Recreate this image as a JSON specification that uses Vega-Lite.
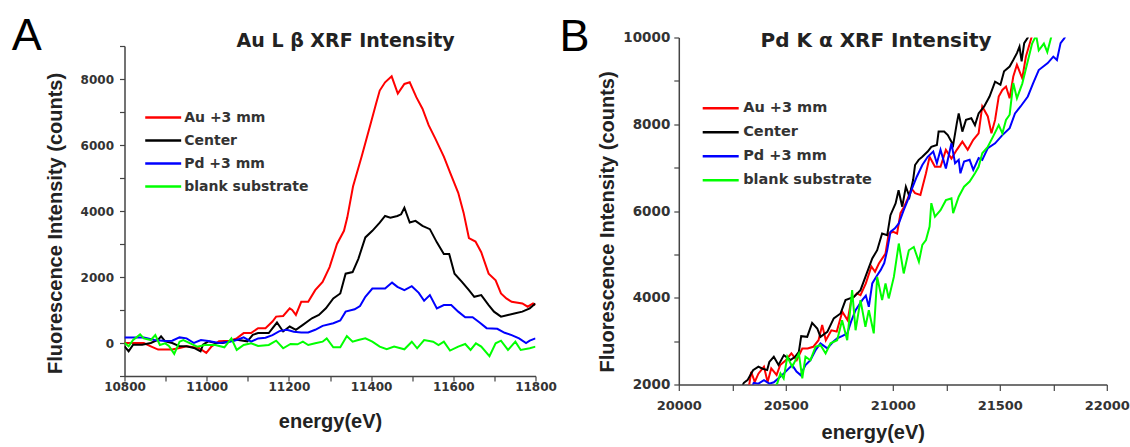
{
  "$schema": "https://vega.github.io/schema/vega-lite/v6.json",
  "padding": {"left": 10.5, "top": 12.5, "right": 0, "bottom": 0},
  "background": "white",
  "datasets": {
    "a": [
      {"s":"Au +3 mm","e":10800,"i":0},{"s":"Au +3 mm","e":10830,"i":0},{"s":"Au +3 mm","e":10847,"i":0},{"s":"Au +3 mm","e":10864,"i":-100},{"s":"Au +3 mm","e":10882,"i":-200},{"s":"Au +3 mm","e":10916,"i":-200},{"s":"Au +3 mm","e":10934,"i":-150},{"s":"Au +3 mm","e":10951,"i":-100},{"s":"Au +3 mm","e":10981,"i":-150},{"s":"Au +3 mm","e":10999,"i":-300},{"s":"Au +3 mm","e":11012,"i":-100},{"s":"Au +3 mm","e":11030,"i":50},{"s":"Au +3 mm","e":11056,"i":70},{"s":"Au +3 mm","e":11073,"i":140},{"s":"Au +3 mm","e":11090,"i":300},{"s":"Au +3 mm","e":11108,"i":300},{"s":"Au +3 mm","e":11125,"i":450},{"s":"Au +3 mm","e":11143,"i":450},{"s":"Au +3 mm","e":11160,"i":650},{"s":"Au +3 mm","e":11169,"i":800},{"s":"Au +3 mm","e":11186,"i":820},{"s":"Au +3 mm","e":11202,"i":1050},{"s":"Au +3 mm","e":11208,"i":1000},{"s":"Au +3 mm","e":11217,"i":850},{"s":"Au +3 mm","e":11230,"i":1250},{"s":"Au +3 mm","e":11247,"i":1250},{"s":"Au +3 mm","e":11264,"i":1600},{"s":"Au +3 mm","e":11282,"i":1850},{"s":"Au +3 mm","e":11299,"i":2300},{"s":"Au +3 mm","e":11317,"i":3000},{"s":"Au +3 mm","e":11334,"i":3400},{"s":"Au +3 mm","e":11342,"i":3800},{"s":"Au +3 mm","e":11356,"i":4740},{"s":"Au +3 mm","e":11377,"i":5650},{"s":"Au +3 mm","e":11399,"i":6650},{"s":"Au +3 mm","e":11412,"i":7250},{"s":"Au +3 mm","e":11421,"i":7650},{"s":"Au +3 mm","e":11434,"i":7900},{"s":"Au +3 mm","e":11450,"i":8080},{"s":"Au +3 mm","e":11465,"i":7560},{"s":"Au +3 mm","e":11481,"i":7850},{"s":"Au +3 mm","e":11494,"i":7900},{"s":"Au +3 mm","e":11510,"i":7450},{"s":"Au +3 mm","e":11525,"i":7100},{"s":"Au +3 mm","e":11540,"i":6600},{"s":"Au +3 mm","e":11556,"i":6200},{"s":"Au +3 mm","e":11577,"i":5650},{"s":"Au +3 mm","e":11593,"i":5140},{"s":"Au +3 mm","e":11612,"i":4550},{"s":"Au +3 mm","e":11625,"i":3950},{"s":"Au +3 mm","e":11638,"i":3180},{"s":"Au +3 mm","e":11654,"i":3075},{"s":"Au +3 mm","e":11668,"i":2750},{"s":"Au +3 mm","e":11686,"i":2100},{"s":"Au +3 mm","e":11703,"i":1900},{"s":"Au +3 mm","e":11716,"i":1500},{"s":"Au +3 mm","e":11729,"i":1350},{"s":"Au +3 mm","e":11742,"i":1250},{"s":"Au +3 mm","e":11768,"i":1200},{"s":"Au +3 mm","e":11781,"i":1100},{"s":"Au +3 mm","e":11794,"i":1200},{"s":"Au +3 mm","e":11800,"i":1150},
      {"s":"Center","e":10800,"i":-100},{"s":"Center","e":10810,"i":-250},{"s":"Center","e":10821,"i":-50},{"s":"Center","e":10843,"i":-50},{"s":"Center","e":10864,"i":0},{"s":"Center","e":10882,"i":100},{"s":"Center","e":10889,"i":200},{"s":"Center","e":10899,"i":50},{"s":"Center","e":10916,"i":0},{"s":"Center","e":10934,"i":-100},{"s":"Center","e":10951,"i":-100},{"s":"Center","e":10969,"i":-150},{"s":"Center","e":10985,"i":-250},{"s":"Center","e":10991,"i":-50},{"s":"Center","e":11004,"i":50},{"s":"Center","e":11021,"i":0},{"s":"Center","e":11039,"i":0},{"s":"Center","e":11056,"i":50},{"s":"Center","e":11073,"i":100},{"s":"Center","e":11099,"i":50},{"s":"Center","e":11112,"i":250},{"s":"Center","e":11125,"i":300},{"s":"Center","e":11151,"i":300},{"s":"Center","e":11171,"i":620},{"s":"Center","e":11186,"i":350},{"s":"Center","e":11202,"i":500},{"s":"Center","e":11217,"i":400},{"s":"Center","e":11234,"i":550},{"s":"Center","e":11256,"i":750},{"s":"Center","e":11273,"i":850},{"s":"Center","e":11290,"i":1050},{"s":"Center","e":11308,"i":1350},{"s":"Center","e":11325,"i":1500},{"s":"Center","e":11338,"i":2100},{"s":"Center","e":11355,"i":2150},{"s":"Center","e":11369,"i":2550},{"s":"Center","e":11386,"i":3200},{"s":"Center","e":11403,"i":3400},{"s":"Center","e":11421,"i":3650},{"s":"Center","e":11434,"i":3850},{"s":"Center","e":11447,"i":3800},{"s":"Center","e":11464,"i":3850},{"s":"Center","e":11473,"i":3900},{"s":"Center","e":11481,"i":4100},{"s":"Center","e":11494,"i":3650},{"s":"Center","e":11508,"i":3700},{"s":"Center","e":11525,"i":3550},{"s":"Center","e":11543,"i":3450},{"s":"Center","e":11560,"i":3050},{"s":"Center","e":11577,"i":2700},{"s":"Center","e":11590,"i":2700},{"s":"Center","e":11603,"i":2100},{"s":"Center","e":11621,"i":1850},{"s":"Center","e":11638,"i":1600},{"s":"Center","e":11651,"i":1400},{"s":"Center","e":11668,"i":1450},{"s":"Center","e":11686,"i":1150},{"s":"Center","e":11699,"i":950},{"s":"Center","e":11716,"i":800},{"s":"Center","e":11733,"i":850},{"s":"Center","e":11751,"i":900},{"s":"Center","e":11768,"i":950},{"s":"Center","e":11786,"i":1050},{"s":"Center","e":11800,"i":1200},
      {"s":"Pd +3 mm","e":10800,"i":170},{"s":"Pd +3 mm","e":10847,"i":170},{"s":"Pd +3 mm","e":10873,"i":90},{"s":"Pd +3 mm","e":10899,"i":60},{"s":"Pd +3 mm","e":10916,"i":70},{"s":"Pd +3 mm","e":10934,"i":170},{"s":"Pd +3 mm","e":10951,"i":140},{"s":"Pd +3 mm","e":10969,"i":0},{"s":"Pd +3 mm","e":10986,"i":90},{"s":"Pd +3 mm","e":11004,"i":60},{"s":"Pd +3 mm","e":11030,"i":0},{"s":"Pd +3 mm","e":11056,"i":40},{"s":"Pd +3 mm","e":11073,"i":90},{"s":"Pd +3 mm","e":11090,"i":170},{"s":"Pd +3 mm","e":11108,"i":40},{"s":"Pd +3 mm","e":11125,"i":140},{"s":"Pd +3 mm","e":11143,"i":160},{"s":"Pd +3 mm","e":11160,"i":240},{"s":"Pd +3 mm","e":11177,"i":360},{"s":"Pd +3 mm","e":11195,"i":400},{"s":"Pd +3 mm","e":11212,"i":340},{"s":"Pd +3 mm","e":11230,"i":320},{"s":"Pd +3 mm","e":11247,"i":320},{"s":"Pd +3 mm","e":11264,"i":400},{"s":"Pd +3 mm","e":11282,"i":520},{"s":"Pd +3 mm","e":11308,"i":600},{"s":"Pd +3 mm","e":11325,"i":680},{"s":"Pd +3 mm","e":11338,"i":950},{"s":"Pd +3 mm","e":11360,"i":1020},{"s":"Pd +3 mm","e":11373,"i":1120},{"s":"Pd +3 mm","e":11386,"i":1400},{"s":"Pd +3 mm","e":11403,"i":1650},{"s":"Pd +3 mm","e":11434,"i":1650},{"s":"Pd +3 mm","e":11451,"i":1830},{"s":"Pd +3 mm","e":11464,"i":1700},{"s":"Pd +3 mm","e":11481,"i":1600},{"s":"Pd +3 mm","e":11499,"i":1720},{"s":"Pd +3 mm","e":11516,"i":1520},{"s":"Pd +3 mm","e":11529,"i":1280},{"s":"Pd +3 mm","e":11543,"i":1450},{"s":"Pd +3 mm","e":11560,"i":1050},{"s":"Pd +3 mm","e":11577,"i":1150},{"s":"Pd +3 mm","e":11595,"i":1150},{"s":"Pd +3 mm","e":11612,"i":950},{"s":"Pd +3 mm","e":11629,"i":780},{"s":"Pd +3 mm","e":11647,"i":780},{"s":"Pd +3 mm","e":11664,"i":620},{"s":"Pd +3 mm","e":11681,"i":450},{"s":"Pd +3 mm","e":11707,"i":430},{"s":"Pd +3 mm","e":11725,"i":310},{"s":"Pd +3 mm","e":11742,"i":240},{"s":"Pd +3 mm","e":11760,"i":140},{"s":"Pd +3 mm","e":11777,"i":0},{"s":"Pd +3 mm","e":11786,"i":70},{"s":"Pd +3 mm","e":11800,"i":140},
      {"s":"blank substrate","e":10800,"i":10},{"s":"blank substrate","e":10810,"i":-100},{"s":"blank substrate","e":10821,"i":90},{"s":"blank substrate","e":10838,"i":260},{"s":"blank substrate","e":10847,"i":140},{"s":"blank substrate","e":10864,"i":90},{"s":"blank substrate","e":10875,"i":240},{"s":"blank substrate","e":10886,"i":-60},{"s":"blank substrate","e":10899,"i":-10},{"s":"blank substrate","e":10908,"i":-90},{"s":"blank substrate","e":10921,"i":-330},{"s":"blank substrate","e":10934,"i":40},{"s":"blank substrate","e":10943,"i":90},{"s":"blank substrate","e":10960,"i":-10},{"s":"blank substrate","e":10977,"i":-110},{"s":"blank substrate","e":10995,"i":-60},{"s":"blank substrate","e":11021,"i":-60},{"s":"blank substrate","e":11043,"i":-130},{"s":"blank substrate","e":11060,"i":140},{"s":"blank substrate","e":11073,"i":-210},{"s":"blank substrate","e":11090,"i":-60},{"s":"blank substrate","e":11108,"i":-10},{"s":"blank substrate","e":11125,"i":-90},{"s":"blank substrate","e":11151,"i":-60},{"s":"blank substrate","e":11169,"i":70},{"s":"blank substrate","e":11186,"i":-160},{"s":"blank substrate","e":11204,"i":-30},{"s":"blank substrate","e":11221,"i":-40},{"s":"blank substrate","e":11234,"i":40},{"s":"blank substrate","e":11247,"i":-60},{"s":"blank substrate","e":11264,"i":-10},{"s":"blank substrate","e":11282,"i":40},{"s":"blank substrate","e":11292,"i":140},{"s":"blank substrate","e":11308,"i":-130},{"s":"blank substrate","e":11325,"i":-130},{"s":"blank substrate","e":11341,"i":210},{"s":"blank substrate","e":11355,"i":40},{"s":"blank substrate","e":11369,"i":90},{"s":"blank substrate","e":11386,"i":140},{"s":"blank substrate","e":11403,"i":40},{"s":"blank substrate","e":11421,"i":-110},{"s":"blank substrate","e":11438,"i":-190},{"s":"blank substrate","e":11456,"i":-110},{"s":"blank substrate","e":11481,"i":-190},{"s":"blank substrate","e":11499,"i":40},{"s":"blank substrate","e":11512,"i":-160},{"s":"blank substrate","e":11529,"i":90},{"s":"blank substrate","e":11551,"i":40},{"s":"blank substrate","e":11564,"i":-60},{"s":"blank substrate","e":11577,"i":40},{"s":"blank substrate","e":11592,"i":-230},{"s":"blank substrate","e":11612,"i":-110},{"s":"blank substrate","e":11629,"i":-30},{"s":"blank substrate","e":11642,"i":-210},{"s":"blank substrate","e":11655,"i":-10},{"s":"blank substrate","e":11668,"i":-110},{"s":"blank substrate","e":11688,"i":-400},{"s":"blank substrate","e":11703,"i":-10},{"s":"blank substrate","e":11716,"i":70},{"s":"blank substrate","e":11733,"i":-210},{"s":"blank substrate","e":11751,"i":40},{"s":"blank substrate","e":11764,"i":-210},{"s":"blank substrate","e":11786,"i":-160},{"s":"blank substrate","e":11800,"i":-110}
    ],
    "b": [
      {"s":"Au +3 mm","e":20320,"i":1900},{"s":"Au +3 mm","e":20330,"i":2020},{"s":"Au +3 mm","e":20338,"i":2290},{"s":"Au +3 mm","e":20355,"i":2060},{"s":"Au +3 mm","e":20372,"i":2250},{"s":"Au +3 mm","e":20398,"i":2410},{"s":"Au +3 mm","e":20415,"i":2060},{"s":"Au +3 mm","e":20432,"i":2370},{"s":"Au +3 mm","e":20457,"i":2220},{"s":"Au +3 mm","e":20474,"i":2450},{"s":"Au +3 mm","e":20500,"i":2560},{"s":"Au +3 mm","e":20526,"i":2720},{"s":"Au +3 mm","e":20551,"i":2560},{"s":"Au +3 mm","e":20577,"i":2830},{"s":"Au +3 mm","e":20602,"i":2830},{"s":"Au +3 mm","e":20628,"i":2870},{"s":"Au +3 mm","e":20653,"i":3020},{"s":"Au +3 mm","e":20670,"i":3370},{"s":"Au +3 mm","e":20687,"i":3020},{"s":"Au +3 mm","e":20713,"i":3250},{"s":"Au +3 mm","e":20738,"i":3220},{"s":"Au +3 mm","e":20764,"i":3680},{"s":"Au +3 mm","e":20789,"i":3480},{"s":"Au +3 mm","e":20806,"i":3950},{"s":"Au +3 mm","e":20832,"i":4100},{"s":"Au +3 mm","e":20849,"i":4060},{"s":"Au +3 mm","e":20874,"i":4330},{"s":"Au +3 mm","e":20900,"i":4720},{"s":"Au +3 mm","e":20917,"i":4600},{"s":"Au +3 mm","e":20935,"i":4790},{"s":"Au +3 mm","e":20966,"i":5020},{"s":"Au +3 mm","e":20981,"i":5481},{"s":"Au +3 mm","e":21002,"i":5520},{"s":"Au +3 mm","e":21020,"i":5481},{"s":"Au +3 mm","e":21036,"i":5950},{"s":"Au +3 mm","e":21053,"i":6100},{"s":"Au +3 mm","e":21070,"i":6290},{"s":"Au +3 mm","e":21087,"i":6520},{"s":"Au +3 mm","e":21104,"i":6410},{"s":"Au +3 mm","e":21129,"i":6370},{"s":"Au +3 mm","e":21155,"i":6870},{"s":"Au +3 mm","e":21172,"i":7250},{"s":"Au +3 mm","e":21197,"i":7020},{"s":"Au +3 mm","e":21223,"i":7020},{"s":"Au +3 mm","e":21248,"i":7410},{"s":"Au +3 mm","e":21274,"i":7210},{"s":"Au +3 mm","e":21299,"i":7410},{"s":"Au +3 mm","e":21325,"i":7600},{"s":"Au +3 mm","e":21350,"i":7410},{"s":"Au +3 mm","e":21376,"i":7640},{"s":"Au +3 mm","e":21401,"i":7790},{"s":"Au +3 mm","e":21418,"i":8410},{"s":"Au +3 mm","e":21444,"i":8180},{"s":"Au +3 mm","e":21461,"i":7790},{"s":"Au +3 mm","e":21478,"i":8100},{"s":"Au +3 mm","e":21495,"i":8640},{"s":"Au +3 mm","e":21512,"i":8790},{"s":"Au +3 mm","e":21529,"i":8870},{"s":"Au +3 mm","e":21546,"i":8600},{"s":"Au +3 mm","e":21563,"i":9100},{"s":"Au +3 mm","e":21580,"i":9370},{"s":"Au +3 mm","e":21605,"i":9060},{"s":"Au +3 mm","e":21622,"i":9560},{"s":"Au +3 mm","e":21648,"i":10000},{"s":"Au +3 mm","e":21660,"i":10150},
      {"s":"Center","e":20290,"i":1900},{"s":"Center","e":20304,"i":2039},{"s":"Center","e":20321,"i":2100},{"s":"Center","e":20347,"i":2330},{"s":"Center","e":20372,"i":2410},{"s":"Center","e":20389,"i":2370},{"s":"Center","e":20413,"i":2332},{"s":"Center","e":20423,"i":2520},{"s":"Center","e":20444,"i":2638},{"s":"Center","e":20466,"i":2450},{"s":"Center","e":20491,"i":2677},{"s":"Center","e":20522,"i":2562},{"s":"Center","e":20543,"i":2640},{"s":"Center","e":20561,"i":2754},{"s":"Center","e":20572,"i":3115},{"s":"Center","e":20600,"i":3099},{"s":"Center","e":20623,"i":3421},{"s":"Center","e":20647,"i":3292},{"s":"Center","e":20662,"i":3099},{"s":"Center","e":20694,"i":3214},{"s":"Center","e":20724,"i":3523},{"s":"Center","e":20756,"i":3638},{"s":"Center","e":20779,"i":3945},{"s":"Center","e":20818,"i":4020},{"s":"Center","e":20849,"i":4175},{"s":"Center","e":20872,"i":4481},{"s":"Center","e":20904,"i":4905},{"s":"Center","e":20927,"i":5097},{"s":"Center","e":20950,"i":5481},{"s":"Center","e":20974,"i":5442},{"s":"Center","e":20989,"i":5903},{"s":"Center","e":21013,"i":6173},{"s":"Center","e":21027,"i":6480},{"s":"Center","e":21044,"i":6100},{"s":"Center","e":21061,"i":6560},{"s":"Center","e":21078,"i":6330},{"s":"Center","e":21095,"i":6720},{"s":"Center","e":21104,"i":7060},{"s":"Center","e":21121,"i":7180},{"s":"Center","e":21138,"i":7250},{"s":"Center","e":21163,"i":7370},{"s":"Center","e":21180,"i":7480},{"s":"Center","e":21206,"i":7520},{"s":"Center","e":21214,"i":7830},{"s":"Center","e":21240,"i":7830},{"s":"Center","e":21257,"i":7750},{"s":"Center","e":21282,"i":7520},{"s":"Center","e":21299,"i":8020},{"s":"Center","e":21308,"i":8250},{"s":"Center","e":21325,"i":7830},{"s":"Center","e":21342,"i":8100},{"s":"Center","e":21367,"i":8140},{"s":"Center","e":21384,"i":7980},{"s":"Center","e":21401,"i":8250},{"s":"Center","e":21427,"i":8410},{"s":"Center","e":21452,"i":8640},{"s":"Center","e":21478,"i":8980},{"s":"Center","e":21503,"i":8910},{"s":"Center","e":21520,"i":9220},{"s":"Center","e":21546,"i":9330},{"s":"Center","e":21563,"i":9480},{"s":"Center","e":21580,"i":9640},{"s":"Center","e":21592,"i":9790},{"s":"Center","e":21602,"i":9450},{"s":"Center","e":21614,"i":9870},{"s":"Center","e":21631,"i":10000},{"s":"Center","e":21640,"i":10150},
      {"s":"Pd +3 mm","e":20340,"i":1900},{"s":"Pd +3 mm","e":20350,"i":2040},{"s":"Pd +3 mm","e":20372,"i":2020},{"s":"Pd +3 mm","e":20398,"i":2100},{"s":"Pd +3 mm","e":20423,"i":2020},{"s":"Pd +3 mm","e":20444,"i":2050},{"s":"Pd +3 mm","e":20474,"i":2180},{"s":"Pd +3 mm","e":20491,"i":2256},{"s":"Pd +3 mm","e":20530,"i":2447},{"s":"Pd +3 mm","e":20550,"i":2300},{"s":"Pd +3 mm","e":20569,"i":2217},{"s":"Pd +3 mm","e":20592,"i":2450},{"s":"Pd +3 mm","e":20615,"i":2562},{"s":"Pd +3 mm","e":20640,"i":2800},{"s":"Pd +3 mm","e":20662,"i":2947},{"s":"Pd +3 mm","e":20694,"i":2832},{"s":"Pd +3 mm","e":20720,"i":2980},{"s":"Pd +3 mm","e":20740,"i":3062},{"s":"Pd +3 mm","e":20765,"i":3120},{"s":"Pd +3 mm","e":20787,"i":3177},{"s":"Pd +3 mm","e":20805,"i":3450},{"s":"Pd +3 mm","e":20826,"i":3714},{"s":"Pd +3 mm","e":20857,"i":3945},{"s":"Pd +3 mm","e":20874,"i":4050},{"s":"Pd +3 mm","e":20888,"i":3790},{"s":"Pd +3 mm","e":20904,"i":4330},{"s":"Pd +3 mm","e":20925,"i":4500},{"s":"Pd +3 mm","e":20943,"i":4636},{"s":"Pd +3 mm","e":20960,"i":4800},{"s":"Pd +3 mm","e":20974,"i":5097},{"s":"Pd +3 mm","e":20989,"i":5518},{"s":"Pd +3 mm","e":21010,"i":5600},{"s":"Pd +3 mm","e":21028,"i":5712},{"s":"Pd +3 mm","e":21051,"i":6018},{"s":"Pd +3 mm","e":21070,"i":6250},{"s":"Pd +3 mm","e":21087,"i":6480},{"s":"Pd +3 mm","e":21112,"i":6790},{"s":"Pd +3 mm","e":21138,"i":7060},{"s":"Pd +3 mm","e":21163,"i":7250},{"s":"Pd +3 mm","e":21189,"i":7370},{"s":"Pd +3 mm","e":21206,"i":7100},{"s":"Pd +3 mm","e":21223,"i":7410},{"s":"Pd +3 mm","e":21248,"i":6980},{"s":"Pd +3 mm","e":21274,"i":7560},{"s":"Pd +3 mm","e":21291,"i":7100},{"s":"Pd +3 mm","e":21308,"i":7180},{"s":"Pd +3 mm","e":21316,"i":6870},{"s":"Pd +3 mm","e":21333,"i":7140},{"s":"Pd +3 mm","e":21359,"i":7180},{"s":"Pd +3 mm","e":21376,"i":6950},{"s":"Pd +3 mm","e":21401,"i":7220},{"s":"Pd +3 mm","e":21418,"i":7180},{"s":"Pd +3 mm","e":21444,"i":7450},{"s":"Pd +3 mm","e":21478,"i":7560},{"s":"Pd +3 mm","e":21512,"i":7750},{"s":"Pd +3 mm","e":21546,"i":7910},{"s":"Pd +3 mm","e":21571,"i":8250},{"s":"Pd +3 mm","e":21597,"i":8410},{"s":"Pd +3 mm","e":21631,"i":8640},{"s":"Pd +3 mm","e":21656,"i":8950},{"s":"Pd +3 mm","e":21682,"i":9250},{"s":"Pd +3 mm","e":21724,"i":9410},{"s":"Pd +3 mm","e":21750,"i":9560},{"s":"Pd +3 mm","e":21767,"i":9480},{"s":"Pd +3 mm","e":21784,"i":9870},{"s":"Pd +3 mm","e":21801,"i":9980},{"s":"Pd +3 mm","e":21815,"i":10100},
      {"s":"blank substrate","e":20440,"i":1900},{"s":"blank substrate","e":20460,"i":2025},{"s":"blank substrate","e":20475,"i":2255},{"s":"blank substrate","e":20490,"i":2140},{"s":"blank substrate","e":20507,"i":2640},{"s":"blank substrate","e":20530,"i":2410},{"s":"blank substrate","e":20561,"i":2715},{"s":"blank substrate","e":20577,"i":2140},{"s":"blank substrate","e":20592,"i":2640},{"s":"blank substrate","e":20615,"i":2560},{"s":"blank substrate","e":20639,"i":2870},{"s":"blank substrate","e":20662,"i":2910},{"s":"blank substrate","e":20686,"i":2715},{"s":"blank substrate","e":20709,"i":2950},{"s":"blank substrate","e":20740,"i":3020},{"s":"blank substrate","e":20763,"i":3480},{"s":"blank substrate","e":20787,"i":3020},{"s":"blank substrate","e":20810,"i":4175},{"s":"blank substrate","e":20826,"i":3250},{"s":"blank substrate","e":20849,"i":3945},{"s":"blank substrate","e":20872,"i":3330},{"s":"blank substrate","e":20888,"i":3715},{"s":"blank substrate","e":20911,"i":3180},{"s":"blank substrate","e":20927,"i":4480},{"s":"blank substrate","e":20950,"i":3945},{"s":"blank substrate","e":20966,"i":4330},{"s":"blank substrate","e":20981,"i":3985},{"s":"blank substrate","e":21005,"i":4480},{"s":"blank substrate","e":21028,"i":5250},{"s":"blank substrate","e":21051,"i":4560},{"s":"blank substrate","e":21075,"i":5095},{"s":"blank substrate","e":21098,"i":5170},{"s":"blank substrate","e":21122,"i":4830},{"s":"blank substrate","e":21138,"i":5220},{"s":"blank substrate","e":21155,"i":5330},{"s":"blank substrate","e":21172,"i":5640},{"s":"blank substrate","e":21180,"i":6180},{"s":"blank substrate","e":21197,"i":5870},{"s":"blank substrate","e":21223,"i":6020},{"s":"blank substrate","e":21248,"i":6250},{"s":"blank substrate","e":21274,"i":6290},{"s":"blank substrate","e":21282,"i":5950},{"s":"blank substrate","e":21308,"i":6330},{"s":"blank substrate","e":21333,"i":6560},{"s":"blank substrate","e":21359,"i":6680},{"s":"blank substrate","e":21384,"i":6870},{"s":"blank substrate","e":21401,"i":7020},{"s":"blank substrate","e":21418,"i":7330},{"s":"blank substrate","e":21444,"i":7480},{"s":"blank substrate","e":21469,"i":7720},{"s":"blank substrate","e":21495,"i":7980},{"s":"blank substrate","e":21512,"i":7790},{"s":"blank substrate","e":21529,"i":8100},{"s":"blank substrate","e":21546,"i":8220},{"s":"blank substrate","e":21563,"i":8950},{"s":"blank substrate","e":21580,"i":8600},{"s":"blank substrate","e":21605,"i":8937},{"s":"blank substrate","e":21628,"i":9398},{"s":"blank substrate","e":21651,"i":9859},{"s":"blank substrate","e":21670,"i":10050},{"s":"blank substrate","e":21682,"i":9704},{"s":"blank substrate","e":21706,"i":9859},{"s":"blank substrate","e":21722,"i":9666},{"s":"blank substrate","e":21745,"i":10100}
    ]
  },
  "config": {
    "view": {"stroke": null},
    "font": "Liberation Sans",
    "axis": {
      "grid": false,
      "domainColor": "#444",
      "domainWidth": 1.5,
      "tickColor": "#444",
      "tickWidth": 1.2,
      "tickSize": 5,
      "labelFont": "DejaVu Sans",
      "labelFontWeight": "bold",
      "labelColor": "#333",
      "labelOverlap": false,
      "labelFlush": false,
      "titleFont": "Liberation Sans",
      "titleFontWeight": "bold",
      "titleFontSize": 20,
      "titleColor": "#222"
    },
    "legend": {
      "orient": "none",
      "title": null,
      "symbolStrokeWidth": 2.5,
      "labelFont": "DejaVu Sans",
      "labelFontWeight": "bold",
      "labelColor": "#333",
      "labelOffset": 5,
      "padding": 0,
      "rowPadding": 0
    }
  },
  "bounds": "flush",
  "center": true,
  "spacing": 143.3,
  "resolve": {"scale": {"x": "independent", "y": "independent", "color": "independent"}, "legend": {"color": "independent"}},
  "hconcat": [
    {
      "width": 411,
      "height": 330,
      "resolve": {"axis": {"x": "independent", "y": "independent"}},
      "layer": [
        {
          "data": {"name": "a"},
          "mark": {"type": "line", "clip": true, "strokeWidth": 2},
          "encoding": {
            "x": {"field": "e", "type": "quantitative", "scale": {"domain": [10800, 11800], "nice": false, "zero": false},
              "axis": {"orient": "bottom", "values": [10800,10900,11000,11100,11200,11300,11400,11500,11600,11700,11800], "format": "d", "labelExpr": "datum.value % 200 === 0 ? datum.label : ''", "labelFontSize": 12, "labelPadding": 0, "title": "energy(eV)", "titleBaseline": "alphabetic", "titleY": 51}},
            "y": {"field": "i", "type": "quantitative", "scale": {"domain": [-1000, 9000], "nice": false, "zero": false},
              "axis": {"orient": "left", "values": [-1000,0,1000,2000,3000,4000,5000,6000,7000,8000,9000], "format": "d", "labelExpr": "datum.value % 2000 === 0 ? datum.label : ''", "labelFontSize": 12, "labelPadding": 6, "title": "Fluorescence Intensity (counts)", "titleX": -69, "titleY": 177, "titleBaseline": "middle"}},
            "color": {"field": "s", "type": "nominal", "scale": {"domain": ["Au +3 mm", "Center", "Pd +3 mm", "blank substrate"], "range": ["#ff0000", "#000000", "#0000ff", "#00ff00"]},
              "legend": {"legendX": 22.7, "legendY": 55.5, "labelFontSize": 14, "symbolSize": 840, "symbolType": "M-1.24,0H1.24"}}
          }
        },
        {
          "data": {"values": []},
          "mark": {"type": "point"},
          "encoding": {
            "x": {"field": "e", "type": "quantitative", "scale": {"domain": [10800, 11800], "nice": false, "zero": false},
              "axis": {"orient": "top", "domain": false, "ticks": false, "labels": false, "title": "Au L β XRF Intensity", "titleX": 220.6, "titleY": 0.3, "titleAlign": "center", "titleBaseline": "alphabetic", "titleFont": "DejaVu Sans", "titleFontSize": 19, "titleFontWeight": "bold", "titleColor": "#222"}},
            "y": {"field": "i", "type": "quantitative", "scale": {"domain": [-1000, 9000], "nice": false, "zero": false},
              "axis": {"orient": "right", "domain": false, "ticks": false, "labels": false, "title": "A", "titleAngle": 0, "titleX": -524.2, "titleY": 3.3, "titleAlign": "left", "titleBaseline": "alphabetic", "titleFont": "Liberation Sans", "titleFontSize": 45, "titleFontWeight": "normal", "titleColor": "#000"}}
          }
        }
      ]
    },
    {
      "width": 428,
      "height": 347,
      "resolve": {"axis": {"x": "independent", "y": "independent"}},
      "layer": [
        {
          "data": {"name": "b"},
          "mark": {"type": "line", "clip": true, "strokeWidth": 2},
          "encoding": {
            "x": {"field": "e", "type": "quantitative", "scale": {"domain": [20000, 22000], "nice": false, "zero": false},
              "axis": {"orient": "bottom", "values": [20000,20250,20500,20750,21000,21250,21500,21750,22000], "format": "d", "labelExpr": "datum.value % 500 === 0 ? datum.label : ''", "labelFontSize": 13, "labelPadding": 9, "tickSize": 6, "title": "energy(eV)", "titleBaseline": "alphabetic", "titleY": 54, "titleX": 194}},
            "y": {"field": "i", "type": "quantitative", "scale": {"domain": [2000, 10000], "nice": false, "zero": false},
              "axis": {"orient": "left", "values": [2000,3000,4000,5000,6000,7000,8000,9000,10000], "format": "d", "labelExpr": "datum.value % 2000 === 0 ? datum.label : ''", "labelFontSize": 13.5, "labelPadding": 4, "title": "Fluorescence Intensity (counts)", "titleX": -71, "titleY": 184, "titleBaseline": "middle"}},
            "color": {"field": "s", "type": "nominal", "scale": {"domain": ["Au +3 mm", "Center", "Pd +3 mm", "blank substrate"], "range": ["#ff0000", "#000000", "#0000ff", "#00ff00"]},
              "legend": {"legendX": 24.4, "legendY": 53.3, "labelFontSize": 14.5, "symbolSize": 1024, "symbolType": "M-1.125,0H1.125"}}
          }
        },
        {
          "data": {"values": []},
          "mark": {"type": "point"},
          "encoding": {
            "x": {"field": "e", "type": "quantitative", "scale": {"domain": [20000, 22000], "nice": false, "zero": false},
              "axis": {"orient": "top", "domain": false, "ticks": false, "labels": false, "title": "Pd K α XRF Intensity", "titleX": 196.7, "titleY": 8.7, "titleAlign": "center", "titleBaseline": "alphabetic", "titleFont": "DejaVu Sans", "titleFontSize": 20, "titleFontWeight": "bold", "titleColor": "#222"}},
            "y": {"field": "i", "type": "quantitative", "scale": {"domain": [2000, 10000], "nice": false, "zero": false},
              "axis": {"orient": "right", "domain": false, "ticks": false, "labels": false, "title": "B", "titleAngle": 0, "titleX": -547.9, "titleY": 12.7, "titleAlign": "left", "titleBaseline": "alphabetic", "titleFont": "Liberation Sans", "titleFontSize": 45, "titleFontWeight": "normal", "titleColor": "#000"}}
          }
        }
      ]
    }
  ]
}
